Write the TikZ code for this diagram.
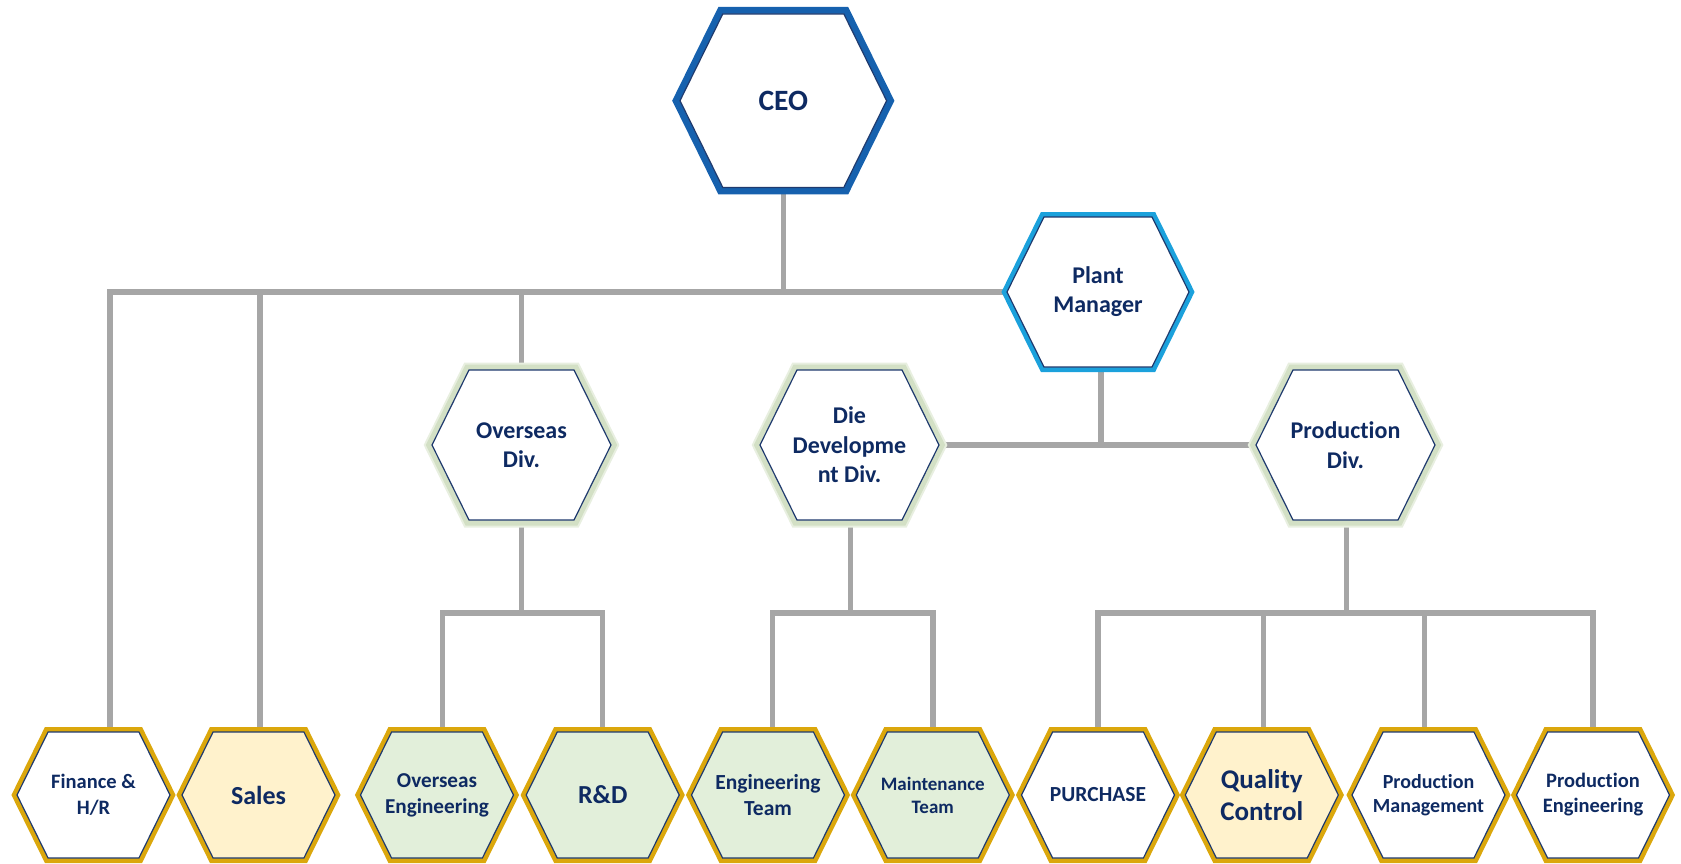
\documentclass[tikz,border=0pt]{standalone}
\usepackage{fontspec}
\setmainfont{Carlito}[Ligatures=CommonOff]
\usetikzlibrary{shapes.symbols}
\usetikzlibrary{backgrounds}
\definecolor{navytext}{HTML}{0E2A62}
\definecolor{hexline}{HTML}{1F3A6E}
\definecolor{goldband}{HTML}{DBA70C}
\definecolor{ceoband}{HTML}{1661AE}
\definecolor{pmband}{HTML}{1BA1DC}
\definecolor{glowband}{HTML}{D3E0C5}
\definecolor{glowout}{HTML}{E8EFE0}
\definecolor{linegray}{HTML}{A6A6A6}
\definecolor{cream}{HTML}{FFF2CC}
\definecolor{mint}{HTML}{E2EFDA}
\newcommand{\hexfont}[2]{\fontsize{#1}{#2}\selectfont\bfseries}
\tikzstyle{orgchart}=[x=1pt, y=-1pt]
\tikzstyle{hexa}=[shape=signal, signal to=east and west, signal pointer angle=127.5, inner xsep=-30pt, inner ysep=0pt, align=center, text=navytext, draw=hexline, line width=1.2pt]
\tikzstyle{top}=[hexa, minimum width=206.6pt, minimum height=173.4pt, fill=white, preaction={draw=ceoband, line width=14pt}]
\tikzstyle{plant}=[hexa, minimum width=182pt, minimum height=150pt, fill=white, preaction={draw=pmband, line width=10pt}]
\tikzstyle{div}=[hexa, minimum width=179pt, minimum height=150pt, fill=white, preaction={draw=glowout, line width=15pt}, preaction={draw=glowband, line width=11pt}, font=\hexfont{24}{29.5}]
\tikzstyle{unit}=[hexa, minimum width=153pt, minimum height=126pt, preaction={draw=goldband, line width=10pt}]
\tikzstyle{conn}=[-, draw=linegray, line width=5.5pt]
\newcommand{\divY}{445}
\newcommand{\unitY}{795}
\newcommand{\busY}{613}

\begin{document}
\begin{tikzpicture}[orgchart]
	\useasboundingbox (0,0) rectangle (1681,864);
	\draw (783.3,100.7) node[top, font=\hexfont{29.5}{36}] (ceo) {CEO};
	\draw (1098,292) node[plant, font=\hexfont{24}{29}] (plant) {Plant\\Manager};
	%%
	\draw (521.5,\divY) node[div] (ovs) {Overseas\\Div.};
	\draw (849.5,\divY) node[div] (die) {Die\\Developme\\nt Div.};
	\draw (1345.5,\divY) node[div] (prod) {Production\\Div.};
	%%
	\draw (93.5,\unitY) node[unit, fill=white, font=\hexfont{20.5}{25.5}] (fin) {Finance \&\\H/R};
	\draw (258.5,\unitY) node[unit, fill=cream, font=\hexfont{26}{31.5}] (sales) {Sales};
	\draw (437,\unitY) node[unit, fill=mint, font=\hexfont{21.2}{25.8}] (oveng) {Overseas\\Engineering};
	\draw (602.7,\unitY) node[unit, fill=mint, font=\hexfont{26}{31}] (rnd) {R\&D};
	\draw (768,\unitY) node[unit, fill=mint, font=\hexfont{21.5}{25.5}] (engt) {Engineering\\Team};
	\draw (932.8,\unitY) node[unit, fill=mint, font=\hexfont{19}{23}] (maint) {Maintenance\\Team};
	\draw (1098,\unitY) node[unit, fill=white, font=\hexfont{21.5}{25}] (purch) {PURCHASE};
	\draw (1261.8,\unitY) node[unit, fill=cream, font=\hexfont{27}{32}] (qc) {Quality\\Control};
	\draw (1428.5,\unitY) node[unit, fill=white, font=\hexfont{20}{23.5}] (pmgmt) {Production\\Management};
	\draw (1593,\unitY) node[unit, fill=white, font=\hexfont{20.5}{25}] (peng) {Production\\Engineering};
	
	%%%%
	\begin{scope}[on background layer]
	\draw[conn] (plant.west) -| ([xshift=16.5pt]fin.north);
	\draw[conn] (ceo.south) -- (ceo.south |- plant.west);
	\draw[conn] ([xshift=1.5pt]sales.north) -- ([xshift=1.5pt]sales.north |- plant.west);
	\draw[conn] (ovs.north) -- (ovs.north |- plant.west);
	\draw[conn] ([xshift=3pt]plant.south) -- ([xshift=3pt]plant.south |- die.east);
	\draw[conn] (die.east) -- (prod.west);
	%%
	\coordinate (ovsbus) at (ovs.south |- 0,\busY);
	\draw[conn] (ovs.south) -- (ovsbus);
	\draw[conn] ([xshift=5.5pt]oveng.north) |- (ovsbus) -| (rnd.north);
	%%
	\coordinate (diebus) at ([xshift=1pt]die.south |- 0,\busY);
	\draw[conn] ([xshift=1pt]die.south) -- (diebus);
	\draw[conn] ([xshift=4.5pt]engt.north) |- (diebus) -| (maint.north);
	%%
	\coordinate (prodbus) at ([xshift=1pt]prod.south |- 0,\busY);
	\draw[conn] ([xshift=1pt]prod.south) -- (prodbus);
	\draw[conn] (purch.north) |- (prodbus) -| (peng.north);
	\draw[conn] ([xshift=1.5pt]qc.north) -- ([xshift=1.5pt]qc.north |- prodbus);
	\draw[conn] ([xshift=-4pt]pmgmt.north) -- ([xshift=-4pt]pmgmt.north |- prodbus);
	\end{scope}
\end{tikzpicture}
\end{document}
